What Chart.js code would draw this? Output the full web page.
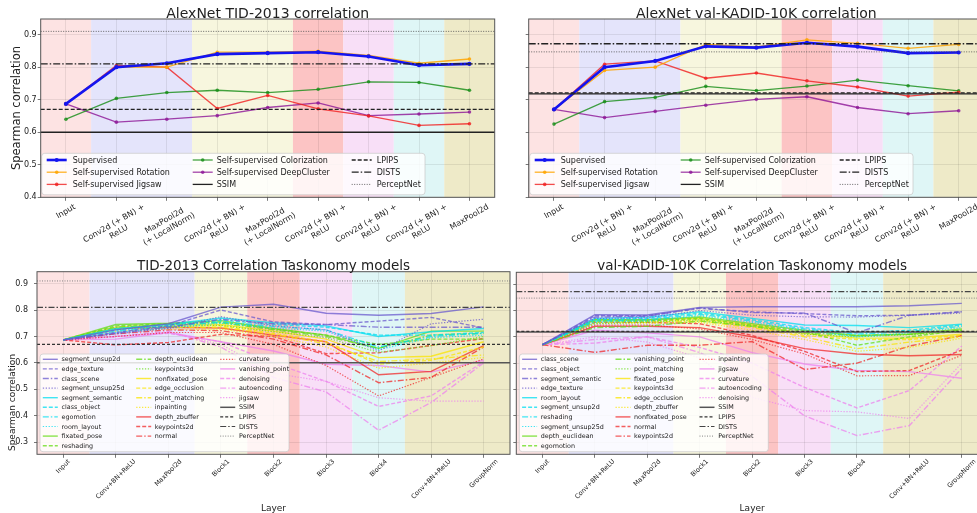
<!DOCTYPE html>
<html>
<head>
<meta charset="utf-8">
<script src="https://cdn.jsdelivr.net/npm/chart.js@4.4.1/dist/chart.umd.min.js"></script>
<style>
  html, body { margin: 0; padding: 0; background: #fff; width: 977px; height: 513px; overflow: hidden; position: relative; }
  canvas { position: absolute; }
</style>
</head>
<body>
<canvas id="tidAlexChart" width="500" height="255" style="left:0;top:0"></canvas>
<canvas id="kadidAlexChart" width="500" height="255" style="left:500px;top:0"></canvas>
<canvas id="tidTaskChart" width="513" height="258" style="left:0;top:255px"></canvas>
<canvas id="kadidTaskChart" width="487" height="258" style="left:513px;top:255px"></canvas>
<script>
// ---------- data ----------
const alexLayers = ['Input', ['Conv2d (+ BN) +', 'ReLU'], ['MaxPool2d', '(+ LocalNorm)'], ['Conv2d (+ BN) +', 'ReLU'],
    ['MaxPool2d', '(+ LocalNorm)'], ['Conv2d (+ BN) +', 'ReLU'], ['Conv2d (+ BN) +', 'ReLU'], ['Conv2d (+ BN) +', 'ReLU'], 'MaxPool2d'];
const taskLayers = ['Input', 'Conv+BN+ReLU', 'MaxPool2d', 'Block1', 'Block2', 'Block3', 'Block4', 'Conv+BN+ReLU', 'GroupNorm'];

const yTicksTop = [0.4, 0.5, 0.6, 0.7, 0.8, 0.9];
const yTicksBottom = [0.3, 0.4, 0.5, 0.6, 0.7, 0.8, 0.9];

const alexSeries = ['Supervised', 'Self-supervised Rotation', 'Self-supervised Jigsaw', 'Self-supervised Colorization', 'Self-supervised DeepCluster'];

// AlexNet on TID-2013
const tidSupervised   = [0.687, 0.800, 0.812, 0.840, 0.843, 0.846, 0.833, 0.806, 0.810];
const tidRotation     = [0.687, 0.800, 0.800, 0.846, 0.846, 0.849, 0.836, 0.812, 0.825];
const tidJigsaw       = [0.687, 0.805, 0.800, 0.673, 0.713, 0.672, 0.650, 0.621, 0.626];
const tidColorization = [0.640, 0.704, 0.722, 0.729, 0.722, 0.732, 0.755, 0.753, 0.729];
const tidDeepCluster  = [0.687, 0.631, 0.640, 0.651, 0.676, 0.690, 0.651, 0.656, 0.662];

// AlexNet on val-KADID-10K
const kadidSupervised   = [0.670, 0.800, 0.819, 0.864, 0.860, 0.875, 0.863, 0.843, 0.845];
const kadidRotation     = [0.670, 0.790, 0.800, 0.870, 0.862, 0.884, 0.873, 0.858, 0.870];
const kadidJigsaw       = [0.670, 0.809, 0.819, 0.766, 0.782, 0.758, 0.739, 0.711, 0.723];
const kadidColorization = [0.625, 0.694, 0.707, 0.741, 0.728, 0.742, 0.760, 0.743, 0.727];
const kadidDeepCluster  = [0.670, 0.645, 0.664, 0.683, 0.701, 0.709, 0.676, 0.657, 0.666];

// reference metrics (horizontal lines)
const metricNames = ['SSIM', 'LPIPS', 'DISTS', 'PerceptNet'];
const tidMetrics = [0.600, 0.670, 0.810, 0.910];
const kadidMetrics = [0.718, 0.721, 0.872, 0.847];

// Taskonomy models on TID-2013 (legend order)
const tidTaskNames = ['segment_unsup2d', 'edge_texture', 'class_scene', 'segment_unsup25d', 'segment_semantic', 'class_object',
    'egomotion', 'room_layout', 'fixated_pose', 'reshading', 'depth_euclidean', 'keypoints3d', 'nonfixated_pose', 'edge_occlusion',
    'point_matching', 'inpainting', 'depth_zbuffer', 'keypoints2d', 'normal', 'curvature', 'vanishing_point', 'denoising',
    'autoencoding', 'jigsaw'];
const tidTaskValues = [
    [0.687, 0.725, 0.748, 0.811, 0.822, 0.788, 0.780, 0.787, 0.812], // segment_unsup2d
    [0.687, 0.715, 0.740, 0.800, 0.755, 0.745, 0.758, 0.772, 0.732], // edge_texture
    [0.687, 0.712, 0.735, 0.765, 0.748, 0.745, 0.735, 0.735, 0.735], // class_scene
    [0.687, 0.710, 0.730, 0.775, 0.740, 0.725, 0.645, 0.748, 0.765], // segment_unsup25d
    [0.687, 0.730, 0.745, 0.770, 0.752, 0.740, 0.700, 0.718, 0.730], // segment_semantic
    [0.687, 0.725, 0.742, 0.762, 0.745, 0.735, 0.705, 0.705, 0.715], // class_object
    [0.687, 0.720, 0.738, 0.755, 0.738, 0.725, 0.660, 0.700, 0.712], // egomotion
    [0.687, 0.715, 0.732, 0.750, 0.732, 0.720, 0.650, 0.695, 0.705], // room_layout
    [0.687, 0.745, 0.750, 0.760, 0.730, 0.705, 0.655, 0.720, 0.720], // fixated_pose
    [0.687, 0.740, 0.748, 0.755, 0.728, 0.705, 0.670, 0.690, 0.690], // reshading
    [0.687, 0.735, 0.745, 0.752, 0.725, 0.700, 0.655, 0.705, 0.712], // depth_euclidean
    [0.687, 0.728, 0.738, 0.742, 0.718, 0.695, 0.640, 0.665, 0.700], // keypoints3d
    [0.687, 0.735, 0.745, 0.745, 0.720, 0.690, 0.620, 0.625, 0.680], // nonfixated_pose
    [0.687, 0.732, 0.740, 0.740, 0.712, 0.680, 0.595, 0.610, 0.660], // edge_occlusion
    [0.687, 0.728, 0.735, 0.735, 0.708, 0.672, 0.605, 0.615, 0.630], // point_matching
    [0.687, 0.720, 0.728, 0.728, 0.700, 0.660, 0.580, 0.600, 0.620], // inpainting
    [0.687, 0.730, 0.735, 0.732, 0.705, 0.680, 0.555, 0.568, 0.665], // depth_zbuffer
    [0.687, 0.668, 0.677, 0.708, 0.700, 0.635, 0.638, 0.666, 0.692], // keypoints2d
    [0.687, 0.710, 0.725, 0.722, 0.690, 0.630, 0.525, 0.545, 0.660], // normal
    [0.687, 0.700, 0.715, 0.715, 0.670, 0.590, 0.475, 0.545, 0.615], // curvature
    [0.687, 0.690, 0.715, 0.680, 0.645, 0.595, 0.590, 0.565, 0.610], // vanishing_point
    [0.687, 0.700, 0.712, 0.680, 0.600, 0.530, 0.435, 0.475, 0.605], // denoising
    [0.687, 0.700, 0.720, 0.660, 0.545, 0.490, 0.345, 0.450, 0.600], // autoencoding
    [0.687, 0.700, 0.715, 0.670, 0.560, 0.530, 0.468, 0.455, 0.455]  // jigsaw
];

// Taskonomy models on val-KADID-10K (legend order)
const kadidTaskNames = ['class_scene', 'class_object', 'segment_semantic', 'edge_texture', 'room_layout', 'segment_unsup2d',
    'reshading', 'segment_unsup25d', 'depth_euclidean', 'egomotion', 'vanishing_point', 'point_matching', 'fixated_pose',
    'keypoints3d', 'edge_occlusion', 'depth_zbuffer', 'nonfixated_pose', 'normal', 'keypoints2d', 'inpainting', 'jigsaw',
    'curvature', 'autoencoding', 'denoising'];
const kadidTaskValues = [
    [0.670, 0.784, 0.783, 0.812, 0.814, 0.814, 0.814, 0.818, 0.827], // class_scene
    [0.670, 0.780, 0.780, 0.808, 0.795, 0.788, 0.780, 0.782, 0.795], // class_object
    [0.670, 0.775, 0.778, 0.810, 0.792, 0.790, 0.715, 0.782, 0.795], // segment_semantic
    [0.670, 0.770, 0.772, 0.800, 0.782, 0.776, 0.775, 0.782, 0.790], // edge_texture
    [0.670, 0.770, 0.775, 0.795, 0.770, 0.745, 0.743, 0.735, 0.748], // room_layout
    [0.670, 0.765, 0.770, 0.790, 0.765, 0.735, 0.715, 0.725, 0.745], // segment_unsup2d
    [0.670, 0.760, 0.765, 0.785, 0.760, 0.730, 0.710, 0.720, 0.740], // reshading
    [0.670, 0.755, 0.760, 0.780, 0.755, 0.725, 0.700, 0.715, 0.735], // segment_unsup25d
    [0.670, 0.765, 0.765, 0.775, 0.750, 0.725, 0.705, 0.710, 0.730], // depth_euclidean
    [0.670, 0.760, 0.760, 0.770, 0.745, 0.720, 0.668, 0.700, 0.725], // egomotion
    [0.670, 0.735, 0.740, 0.760, 0.740, 0.715, 0.705, 0.710, 0.725], // vanishing_point
    [0.670, 0.750, 0.755, 0.765, 0.740, 0.710, 0.700, 0.708, 0.720], // point_matching
    [0.670, 0.765, 0.765, 0.770, 0.745, 0.712, 0.695, 0.695, 0.710], // fixated_pose
    [0.670, 0.760, 0.760, 0.765, 0.740, 0.705, 0.690, 0.690, 0.705], // keypoints3d
    [0.670, 0.755, 0.755, 0.760, 0.735, 0.700, 0.655, 0.680, 0.700], // edge_occlusion
    [0.670, 0.750, 0.750, 0.755, 0.725, 0.690, 0.645, 0.660, 0.695], // depth_zbuffer
    [0.670, 0.740, 0.740, 0.735, 0.700, 0.655, 0.635, 0.628, 0.633], // nonfixated_pose
    [0.670, 0.755, 0.755, 0.750, 0.705, 0.645, 0.568, 0.572, 0.650], // normal
    [0.670, 0.641, 0.668, 0.668, 0.682, 0.576, 0.600, 0.665, 0.705], // keypoints2d
    [0.670, 0.745, 0.745, 0.730, 0.690, 0.635, 0.552, 0.553, 0.630], // inpainting
    [0.670, 0.725, 0.715, 0.700, 0.640, 0.597, 0.572, 0.568, 0.543], // jigsaw
    [0.670, 0.676, 0.700, 0.660, 0.600, 0.508, 0.430, 0.496, 0.665], // curvature
    [0.670, 0.690, 0.700, 0.640, 0.550, 0.400, 0.325, 0.363, 0.580], // autoencoding
    [0.670, 0.700, 0.680, 0.620, 0.470, 0.420, 0.415, 0.390, 0.600]  // denoising
];

// ---------- styles ----------
Chart.defaults.font.family = "'DejaVu Sans', sans-serif";
Chart.defaults.color = '#222';

const alexColors = ['rgb(20,20,240)', 'rgba(255,165,0,0.85)', 'rgba(240,30,30,0.8)', 'rgba(20,140,20,0.8)', 'rgba(140,20,150,0.8)'];
const groupColors = ['106,90,205', '0,222,240', '100,220,20', '250,228,0', '240,40,40', '238,130,238'];
const dashes = [[], [4, 2], [6, 2, 1.5, 2], [1.3, 1.6]];

// layer-group shading: category index ranges
const alexBands = [[0, 0], [1, 2], [3, 4], [5, 5], [6, 6], [7, 7], [8, 8]];
const taskBands = [[0, 0], [1, 2], [3, 3], [4, 4], [5, 5], [6, 6], [7, 8]];
const bandColors = ['#fde3e3', '#e4e4fb', '#f7f6de', '#fcc4c4', '#f8dff7', '#dff6f6', '#eeeac8'];

const topMetricStyle = [
    {color: '#222', width: 1.3, dash: []},
    {color: '#222', width: 1.3, dash: [4, 2]},
    {color: '#222', width: 1.3, dash: [7, 2, 1.5, 2]},
    {color: '#555', width: 0.9, dash: [1, 1.5]}
];
const bottomMetricStyle = [
    {color: '#555', width: 1.5, dash: []},
    {color: '#333', width: 1.2, dash: [3, 2]},
    {color: '#444', width: 1.2, dash: [6, 2, 1.5, 2]},
    {color: '#777', width: 0.9, dash: [1, 1.5]}
];

const topLegend = {box: [1, 384.3, -44, -2.5], row0: -37.3, rowStep: 12.2, sample: [6, 152, 311], sampleLen: 20, text: [32, 176, 336], font: 8};
const bottomLegend = {box: [3, 252, -100.3, -2.6], row0: -95, rowStep: 9.6, sample: [5.8, 99.2, 183.2], sampleLen: 15, text: [24.5, 117.7, 201.9], font: 6.4};

function roundRect(ctx, x, y, w, h, r) {
    ctx.beginPath();
    ctx.moveTo(x + r, y);
    ctx.lineTo(x + w - r, y);
    ctx.quadraticCurveTo(x + w, y, x + w, y + r);
    ctx.lineTo(x + w, y + h - r);
    ctx.quadraticCurveTo(x + w, y + h, x + w - r, y + h);
    ctx.lineTo(x + r, y + h);
    ctx.quadraticCurveTo(x, y + h, x, y + h - r);
    ctx.lineTo(x, y + r);
    ctx.quadraticCurveTo(x, y, x + r, y);
    ctx.closePath();
}

// draws the shading, reference lines, legend, frame and all the text
const figPlugin = {
    id: 'fig',
    beforeDraw(chart, args, o) {
        const {ctx, chartArea: a, scales: {x}} = chart;
        const step = x.getPixelForValue(1) - x.getPixelForValue(0);
        ctx.save();
        o.bands.forEach((b, i) => {
            const x0 = Math.max(a.left, x.getPixelForValue(b[0]) - step / 2);
            const x1 = Math.min(a.right, x.getPixelForValue(b[1]) + step / 2);
            ctx.fillStyle = bandColors[i];
            ctx.fillRect(x0, a.top, x1 - x0, a.bottom - a.top);
        });
        ctx.restore();
    },
    afterDatasetsDraw(chart, args, o) {
        const {ctx, chartArea: a, scales: {y}} = chart;
        ctx.save();
        // metric lines across the whole axes
        o.metrics.forEach((v, i) => {
            const s = o.metricStyle[i];
            const py = y.getPixelForValue(v);
            ctx.strokeStyle = s.color;
            ctx.lineWidth = s.width;
            ctx.setLineDash(s.dash);
            ctx.beginPath();
            ctx.moveTo(a.left, py);
            ctx.lineTo(a.right, py);
            ctx.stroke();
        });
        ctx.setLineDash([]);

        // legend
        const L = o.legend;
        const items = chart.data.datasets.map(d => ({
            label: d.label, color: d.borderColor, width: d.borderWidth, dash: d.borderDash || [], dot: d.pointRadius
        })).concat(metricNames.map((n, i) => ({
            label: n, color: o.metricStyle[i].color, width: o.metricStyle[i].width, dash: o.metricStyle[i].dash, dot: 0
        })));
        const n = items.length;
        const base = Math.floor(n / 3), extra = n % 3;
        const colSizes = [0, 1, 2].map(c => base + (c < extra ? 1 : 0));
        roundRect(ctx, a.left + L.box[0], a.bottom + L.box[2], L.box[1] - L.box[0], L.box[3] - L.box[2], 3);
        ctx.fillStyle = 'rgba(255,255,255,0.82)';
        ctx.fill();
        ctx.strokeStyle = 'rgba(200,200,200,0.9)';
        ctx.lineWidth = 0.8;
        ctx.stroke();
        ctx.font = L.font + "px 'DejaVu Sans'";
        ctx.textAlign = 'left';
        ctx.textBaseline = 'middle';
        let k = 0;
        colSizes.forEach((size, col) => {
            for (let r = 0; r < size; r++, k++) {
                const it = items[k];
                const py = a.bottom + L.row0 + r * L.rowStep;
                const sx = a.left + L.sample[col];
                ctx.strokeStyle = it.color;
                ctx.lineWidth = it.width;
                ctx.setLineDash(it.dash);
                ctx.beginPath();
                ctx.moveTo(sx, py);
                ctx.lineTo(sx + L.sampleLen, py);
                ctx.stroke();
                ctx.setLineDash([]);
                if (it.dot) {
                    ctx.fillStyle = it.color;
                    ctx.beginPath();
                    ctx.arc(sx + L.sampleLen / 2, py, it.dot, 0, Math.PI * 2);
                    ctx.fill();
                }
                ctx.fillStyle = '#222';
                ctx.fillText(it.label, a.left + L.text[col], py + 0.5);
            }
        });
        ctx.restore();
    },
    afterDraw(chart, args, o) {
        const {ctx, chartArea: a, scales: {x}} = chart;
        ctx.save();
        // frame
        ctx.strokeStyle = '#555';
        ctx.lineWidth = 1;
        ctx.strokeRect(a.left, a.top, a.right - a.left, a.bottom - a.top);

        ctx.fillStyle = '#222';
        // title
        ctx.font = o.title.size + "px 'DejaVu Sans'";
        ctx.textAlign = 'center';
        ctx.textBaseline = 'alphabetic';
        ctx.fillText(o.title.text, (a.left + a.right) / 2, o.title.y);

        // rotated, centred category labels
        const th = o.xRot * Math.PI / 180;
        const lh = o.xFont * 1.2;
        ctx.font = o.xFont + "px 'DejaVu Sans'";
        ctx.textBaseline = 'middle';
        chart.data.labels.forEach((lab, i) => {
            const lines = [].concat(lab);
            const w = Math.max(...lines.map(s => ctx.measureText(s).width));
            const bh = w * Math.sin(th) + lines.length * lh * Math.cos(th);
            ctx.save();
            ctx.translate(x.getPixelForValue(i), a.bottom + o.xPad + bh / 2);
            ctx.rotate(-th);
            lines.forEach((s, j) => ctx.fillText(s, 0, (j - (lines.length - 1) / 2) * lh));
            ctx.restore();
        });

        if (o.xTitle) {
            ctx.font = o.xTitle.size + "px 'DejaVu Sans'";
            ctx.textBaseline = 'alphabetic';
            ctx.fillText(o.xTitle.text, (a.left + a.right) / 2, o.xTitle.y);
        }
        if (o.yTitle) {
            ctx.font = o.yTitle.size + "px 'DejaVu Sans'";
            ctx.textBaseline = 'middle';
            ctx.translate(o.yTitle.x, o.yTitle.y);
            ctx.rotate(-Math.PI / 2);
            ctx.fillText('Spearman correlation', 0, 0);
        }
        ctx.restore();
    }
};

function makeChart(id, cfg) {
    return new Chart(document.getElementById(id), {
        type: 'line',
        data: {labels: cfg.labels, datasets: cfg.datasets},
        options: {
            responsive: false,
            animation: false,
            layout: {padding: cfg.pad},
            plugins: {legend: {display: false}, tooltip: {enabled: false}, fig: cfg.fig},
            scales: {
                x: {
                    type: 'category',
                    offset: true,
                    afterFit: s => { s.height = 0; },
                    ticks: {display: false},
                    border: {display: false},
                    grid: {color: 'rgba(0,0,0,0.1)', lineWidth: 0.8, tickLength: 3.5, tickColor: '#555'}
                },
                y: {
                    min: cfg.yMin,
                    max: cfg.yMax,
                    // fixed axis width so the plot box lands where the figure has it
                    afterFit: s => { s.width = cfg.yWidth; },
                    afterBuildTicks: s => { s.ticks = cfg.yTicks.map(v => ({value: v})); },
                    ticks: {display: cfg.yLabels, padding: cfg.yPad, font: {size: 8}, color: '#222', callback: v => v.toFixed(1)},
                    border: {display: false},
                    grid: {color: 'rgba(0,0,0,0.1)', lineWidth: 0.8, tickLength: 3, tickColor: '#555'}
                }
            }
        },
        plugins: [figPlugin]
    });
}

function alexDatasets(values) {
    return alexSeries.map((name, i) => ({
        label: name,
        data: values[i],
        borderColor: alexColors[i],
        backgroundColor: alexColors[i],
        pointBackgroundColor: alexColors[i],
        borderWidth: i === 0 ? 2.6 : 1.3,
        pointRadius: i === 0 ? 2.1 : 1.8,
        pointBorderWidth: 0,
        tension: 0
    }));
}

function taskDatasets(names, values) {
    return names.map((name, i) => {
        const c = 'rgba(' + groupColors[Math.floor(i / 4)] + ',0.75)';
        return {
            label: name,
            data: values[i],
            borderColor: c,
            backgroundColor: c,
            borderWidth: i % 4 === 3 ? 1.2 : 1.4,
            borderDash: dashes[i % 4],
            pointRadius: 0,
            tension: 0
        };
    });
}

makeChart('tidAlexChart', {
    labels: alexLayers,
    datasets: alexDatasets([tidSupervised, tidRotation, tidJigsaw, tidColorization, tidDeepCluster]),
    pad: {left: 10.7, top: 19, right: 5.3, bottom: 57.7},
    yWidth: 30, yMin: 0.4, yMax: 0.948, yTicks: yTicksTop, yLabels: true, yPad: 1,
    fig: {
        bands: alexBands, metrics: tidMetrics, metricStyle: topMetricStyle, legend: topLegend,
        title: {text: 'AlexNet TID-2013 correlation', size: 14, y: 17.5},
        xRot: 30, xFont: 8, xPad: 5,
        yTitle: {x: 16.7, y: 108, size: 11.5}
    }
});

makeChart('kadidAlexChart', {
    labels: alexLayers,
    datasets: alexDatasets([kadidSupervised, kadidRotation, kadidJigsaw, kadidColorization, kadidDeepCluster]),
    pad: {left: 18.7, top: 19, right: 16, bottom: 57.7},
    yWidth: 10, yMin: 0.4, yMax: 0.948, yTicks: yTicksTop, yLabels: false, yPad: 1,
    fig: {
        bands: alexBands, metrics: kadidMetrics, metricStyle: topMetricStyle, legend: topLegend,
        title: {text: 'AlexNet val-KADID-10K correlation', size: 14, y: 17.5},
        xRot: 30, xFont: 8, xPad: 5
    }
});

makeChart('tidTaskChart', {
    labels: taskLayers,
    datasets: taskDatasets(tidTaskNames, tidTaskValues),
    pad: {left: 12, top: 16.7, right: 3, bottom: 58.7},
    yWidth: 25, yMin: 0.254, yMax: 0.945, yTicks: yTicksBottom, yLabels: true, yPad: 6,
    fig: {
        bands: taskBands, metrics: tidMetrics, metricStyle: bottomMetricStyle, legend: bottomLegend,
        title: {text: 'TID-2013 Correlation Taskonomy models', size: 13.5, y: 15},
        xRot: 45, xFont: 6.5, xPad: 3.5,
        xTitle: {text: 'Layer', size: 9, y: 256},
        yTitle: {x: 12.5, y: 147.5, size: 9}
    }
});

makeChart('kadidTaskChart', {
    labels: taskLayers,
    datasets: taskDatasets(kadidTaskNames, kadidTaskValues),
    pad: {left: 0.3, top: 17.3, right: 12, bottom: 58.7},
    yWidth: 3, yMin: 0.254, yMax: 0.945, yTicks: yTicksBottom, yLabels: false, yPad: 6,
    fig: {
        bands: taskBands, metrics: kadidMetrics, metricStyle: bottomMetricStyle, legend: bottomLegend,
        title: {text: 'val-KADID-10K Correlation Taskonomy models', size: 13.5, y: 15},
        xRot: 45, xFont: 6.5, xPad: 3.5,
        xTitle: {text: 'Layer', size: 9, y: 256}
    }
});
</script>
</body>
</html>
